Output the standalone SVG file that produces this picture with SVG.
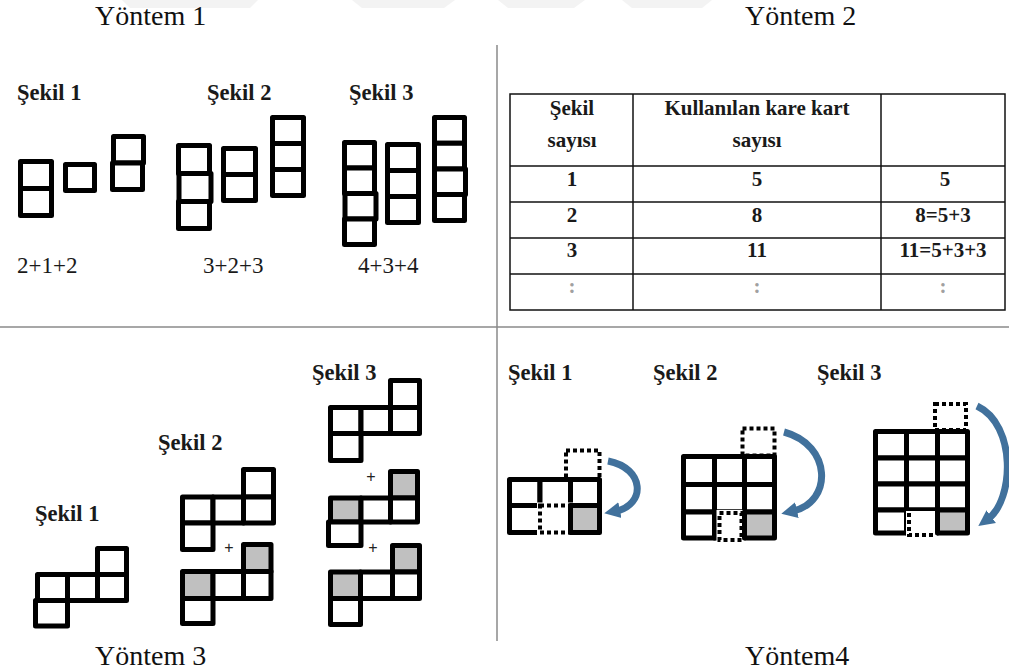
<svg xmlns="http://www.w3.org/2000/svg" width="1009" height="672" viewBox="0 0 1009 672">
  <defs>
    <style>
      .hd { font-family: "Liberation Serif", "Times New Roman", serif; font-size: 28px; fill: #111; }
      .lb { font-family: "Liberation Serif", "Times New Roman", serif; font-size: 22.5px; font-weight: bold; fill: #1a1a1a; }
      .sum { font-family: "Liberation Serif", "Times New Roman", serif; font-size: 23px; fill: #1a1a1a; }
      .tb { font-family: "Liberation Serif", "Times New Roman", serif; font-size: 21px; font-weight: bold; fill: #1a1a1a; text-anchor: middle; }
      .dots { font-family: "Liberation Serif", "Times New Roman", serif; font-size: 21px; font-weight: bold; fill: #a0a0a0; text-anchor: middle; }
      .plus { font-family: "Liberation Sans", Arial, sans-serif; font-size: 16px; fill: #222; text-anchor: middle; }
      .sq { fill: #fff; stroke: #000; stroke-width: 5; stroke-linejoin: round; }
      .gr { fill: #c0c0c0; stroke: #000; stroke-width: 5; stroke-linejoin: round; }
      .erase { fill: #fff; stroke: #fff; stroke-width: 6; }
      .dot { fill: none; stroke: #000; stroke-width: 4; stroke-dasharray: 4 3; }
      .rule { stroke: #8a8a8a; stroke-width: 1.5; fill: none; }
      .grid { stroke: #111; stroke-width: 1.5; fill: none; }
      .arc { fill: none; stroke: #41719c; stroke-width: 7; stroke-linecap: butt; }
      .wm { fill: #f3f3f3; }
    </style>
    <marker id="head" markerUnits="userSpaceOnUse" markerWidth="20" markerHeight="20" refX="4" refY="10" orient="auto">
      <path d="M0,2 L16,10 L0,18 Z" fill="#41719c"/>
    </marker>
  </defs>

  <rect width="1009" height="672" fill="#fff"/>

  <!-- faint band of slanted shapes along the top edge -->
  <g id="top-band">
    <polygon class="wm" points="122,0 258,0 250,8 130,8"/>
    <polygon class="wm" points="352,0 455,0 444,8 362,8"/>
    <polygon class="wm" points="498,0 585,0 574,8 508,8"/>
    <polygon class="wm" points="622,0 712,0 702,8 632,8"/>
  </g>

  <!-- dividers -->
  <g id="connectors">
    <line class="rule" x1="0" y1="327" x2="1009" y2="327"/>
    <line class="rule" x1="497" y1="45" x2="497" y2="641"/>
  </g>

  <!-- section titles -->
  <g id="titles">
    <text class="hd" x="95" y="25">Yöntem 1</text>
    <text class="hd" x="745" y="25">Yöntem 2</text>
    <text class="hd" x="95" y="665">Yöntem 3</text>
    <text class="hd" x="745" y="665">Yöntem4</text>
  </g>

  <!-- Method 1: columns of cards -->
  <g id="m1-fig1">
    <text class="lb" x="17" y="100">Şekil 1</text>
    <rect class="sq" x="20.5" y="161.5" width="31" height="27"/>
    <rect class="sq" x="20.5" y="188.5" width="31" height="27"/>
    <rect class="sq" x="65.5" y="164.5" width="29" height="26"/>
    <rect class="sq" x="113.5" y="136.5" width="30" height="26.5"/>
    <rect class="sq" x="112.5" y="163" width="30" height="26.5"/>
    <text class="sum" x="17" y="273">2+1+2</text>
  </g>
  <g id="m1-fig2">
    <text class="lb" x="207" y="100">Şekil 2</text>
    <rect class="sq" x="178.5" y="145.5" width="31" height="28"/>
    <rect class="sq" x="179" y="173.5" width="32" height="28"/>
    <rect class="sq" x="178.5" y="201.5" width="31" height="27"/>
    <rect class="sq" x="223.5" y="148.5" width="32" height="26"/>
    <rect class="sq" x="223.5" y="174.5" width="32" height="26"/>
    <rect class="sq" x="272.5" y="117.5" width="31" height="26"/>
    <rect class="sq" x="272.5" y="143.5" width="31" height="26"/>
    <rect class="sq" x="272.5" y="169.5" width="31" height="26"/>
    <text class="sum" x="203" y="273">3+2+3</text>
  </g>
  <g id="m1-fig3">
    <text class="lb" x="349" y="100">Şekil 3</text>
    <rect class="sq" x="344.5" y="142.5" width="30" height="25.5"/>
    <rect class="sq" x="344.5" y="168" width="30" height="25.5"/>
    <rect class="sq" x="345" y="193.5" width="31" height="25.5"/>
    <rect class="sq" x="344.5" y="219" width="30" height="25.5"/>
    <rect class="sq" x="387.5" y="144.5" width="31" height="26"/>
    <rect class="sq" x="387.5" y="170.5" width="31" height="26"/>
    <rect class="sq" x="387.5" y="196.5" width="31" height="26"/>
    <rect class="sq" x="434.5" y="117.5" width="30" height="25.7"/>
    <rect class="sq" x="434.5" y="143.2" width="30" height="25.7"/>
    <rect class="sq" x="434.5" y="168.9" width="31" height="25.7"/>
    <rect class="sq" x="434.5" y="194.6" width="30" height="25.9"/>
    <text class="sum" x="358" y="273">4+3+4</text>
  </g>

  <!-- Method 2: table -->
  <g id="m2-table">
    <rect class="grid" x="510" y="94" width="495" height="216"/>
    <line class="grid" x1="633" y1="94" x2="633" y2="310"/>
    <line class="grid" x1="881" y1="94" x2="881" y2="310"/>
    <line class="grid" x1="510" y1="166" x2="1005" y2="166"/>
    <line class="grid" x1="510" y1="202" x2="1005" y2="202"/>
    <line class="grid" x1="510" y1="238" x2="1005" y2="238"/>
    <line class="grid" x1="510" y1="274" x2="1005" y2="274"/>
    <text class="tb" x="572" y="115">Şekil</text>
    <text class="tb" x="572" y="147">sayısı</text>
    <text class="tb" x="757" y="115">Kullanılan kare kart</text>
    <text class="tb" x="757" y="147">sayısı</text>
    <text class="tb" x="572" y="186">1</text>
    <text class="tb" x="757" y="186">5</text>
    <text class="tb" x="945" y="186">5</text>
    <text class="tb" x="572" y="222">2</text>
    <text class="tb" x="757" y="222">8</text>
    <text class="tb" x="943" y="222">8=5+3</text>
    <text class="tb" x="572" y="257">3</text>
    <text class="tb" x="757" y="257">11</text>
    <text class="tb" x="943" y="257">11=5+3+3</text>
    <text class="dots" x="572" y="293">:</text>
    <text class="dots" x="757" y="293">:</text>
    <text class="dots" x="943" y="293">:</text>
  </g>

  <!-- Method 3: step shapes -->
  <g id="m3-fig1">
    <text class="lb" x="35" y="521">Şekil 1</text>
    <rect class="sq" x="97.5" y="548.5" width="29" height="26"/>
    <rect class="sq" x="37.5" y="574.5" width="30" height="26"/>
    <rect class="sq" x="67.5" y="574.5" width="30" height="26"/>
    <rect class="sq" x="97.5" y="574.5" width="29" height="26"/>
    <rect class="sq" x="35.5" y="600.5" width="32" height="25.5"/>
  </g>
  <g id="m3-fig2">
    <text class="lb" x="158" y="450">Şekil 2</text>
    <rect class="sq" x="243.5" y="469.5" width="30" height="27.5"/>
    <rect class="sq" x="182.5" y="497" width="30.5" height="26"/>
    <rect class="sq" x="213" y="497" width="30.5" height="26"/>
    <rect class="sq" x="243.5" y="497" width="30" height="26"/>
    <rect class="sq" x="182.5" y="523" width="30.5" height="26.5"/>
    <text class="plus" x="229" y="553">+</text>
    <rect class="gr" x="243.5" y="544.5" width="27.5" height="27"/>
    <rect class="gr" x="182.5" y="571.5" width="30.5" height="27"/>
    <rect class="sq" x="213" y="571.5" width="30.5" height="27"/>
    <rect class="sq" x="243.5" y="571.5" width="27.5" height="27"/>
    <rect class="sq" x="182.5" y="598.5" width="30.5" height="25"/>
  </g>
  <g id="m3-fig3">
    <text class="lb" x="312" y="380">Şekil 3</text>
    <rect class="sq" x="390.5" y="380.5" width="29" height="27"/>
    <rect class="sq" x="330.5" y="407.5" width="30.5" height="26"/>
    <rect class="sq" x="361" y="407.5" width="29.5" height="26"/>
    <rect class="sq" x="390.5" y="407.5" width="29" height="26"/>
    <rect class="sq" x="330.5" y="433.5" width="30.5" height="27"/>
    <text class="plus" x="371" y="482">+</text>
    <rect class="gr" x="390.5" y="471.5" width="27" height="26.5"/>
    <rect class="gr" x="330.5" y="498" width="30.5" height="24"/>
    <rect class="sq" x="361" y="498" width="29.5" height="24"/>
    <rect class="sq" x="390.5" y="498" width="27" height="24"/>
    <rect class="sq" x="328.5" y="522" width="32.5" height="23.5"/>
    <text class="plus" x="373" y="553">+</text>
    <rect class="gr" x="392.5" y="545.5" width="27" height="26.5"/>
    <rect class="gr" x="330.5" y="572" width="30" height="26.5"/>
    <rect class="sq" x="360.5" y="572" width="32" height="26.5"/>
    <rect class="sq" x="392.5" y="572" width="27" height="26.5"/>
    <rect class="sq" x="330.5" y="598.5" width="30" height="26"/>
  </g>

  <!-- Method 4: grids with a moved card -->
  <g id="m4-fig1">
    <text class="lb" x="508" y="380">Şekil 1</text>
    <rect class="erase" x="566" y="450.5" width="33.5" height="29"/>
    <rect class="dot" x="566" y="450.5" width="33.5" height="29"/>
    <rect class="sq" x="509.5" y="479.5" width="30.5" height="26"/>
    <rect class="sq" x="540" y="479.5" width="30.5" height="26"/>
    <rect class="sq" x="570.5" y="479.5" width="29" height="26"/>
    <rect class="sq" x="509.5" y="505.5" width="30.5" height="27"/>
    <rect class="erase" x="540" y="505.5" width="30.5" height="27"/>
    <rect class="dot" x="540" y="505.5" width="30.5" height="27"/>
    <rect class="gr" x="570.5" y="505.5" width="29" height="27"/>
    <path class="arc" d="M608,461 C645,468 646,505 616,511" marker-end="url(#head)"/>
  </g>
  <g id="m4-fig2">
    <text class="lb" x="653" y="380">Şekil 2</text>
    <rect class="erase" x="742.5" y="428.5" width="32" height="27"/>
    <rect class="dot" x="742.5" y="428.5" width="32" height="27"/>
    <rect class="sq" x="683.5" y="456.5" width="31" height="28"/>
    <rect class="sq" x="714.5" y="456.5" width="30" height="28"/>
    <rect class="sq" x="744.5" y="456.5" width="30" height="28"/>
    <rect class="sq" x="683.5" y="484.5" width="31" height="27.5"/>
    <rect class="sq" x="714.5" y="484.5" width="30" height="27.5"/>
    <rect class="sq" x="744.5" y="484.5" width="30" height="27.5"/>
    <rect class="sq" x="683.5" y="512" width="31" height="26"/>
    <rect class="sq" x="714.5" y="512" width="30" height="26"/>
    <rect class="erase" x="719.5" y="513" width="22" height="27"/>
    <rect class="dot" x="719.5" y="513" width="22" height="27"/>
    <rect class="gr" x="744.5" y="512" width="30" height="26"/>
    <path class="arc" d="M784,432 C832,445 833,502 793,511" marker-end="url(#head)"/>
  </g>
  <g id="m4-fig3">
    <text class="lb" x="817" y="380">Şekil 3</text>
    <rect class="erase" x="935" y="404" width="31" height="26"/>
    <rect class="dot" x="935" y="404" width="31" height="26"/>
    <rect class="sq" x="875.5" y="431.5" width="31" height="26.5"/>
    <rect class="sq" x="906.5" y="431.5" width="31" height="26.5"/>
    <rect class="sq" x="937.5" y="431.5" width="30" height="26.5"/>
    <rect class="sq" x="875.5" y="458" width="31" height="26"/>
    <rect class="sq" x="906.5" y="458" width="31" height="26"/>
    <rect class="sq" x="937.5" y="458" width="30" height="26"/>
    <rect class="sq" x="875.5" y="484" width="31" height="26"/>
    <rect class="sq" x="906.5" y="484" width="31" height="26"/>
    <rect class="sq" x="937.5" y="484" width="30" height="26"/>
    <rect class="sq" x="875.5" y="510" width="31" height="23"/>
    <rect class="sq" x="906.5" y="510" width="31" height="23"/>
    <rect class="erase" x="909" y="514" width="25" height="21"/>
    <path class="dot" d="M909,513 L909,535 L934,535"/>
    <rect class="gr" x="937.5" y="510" width="30" height="23"/>
    <path class="arc" d="M977,406 C1017,425 1014,500 988,519" marker-end="url(#head)"/>
  </g>
</svg>
